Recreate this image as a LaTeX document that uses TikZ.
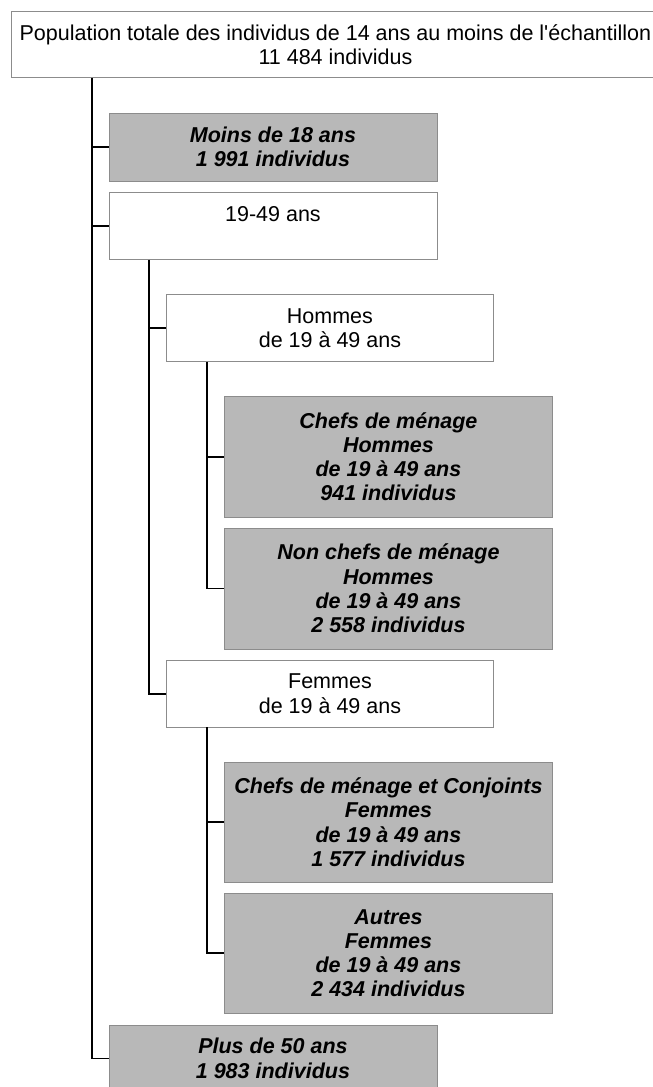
\documentclass[tikz,border=0pt]{standalone}
\usepackage{fontspec}
\setmainfont{Liberation Sans}[Ligatures=TeXOff]
\definecolor{boxgray}{RGB}{184,184,184}
\definecolor{edgegray}{RGB}{140,140,140}
\begin{document}
\begin{tikzpicture}[x=1pt,y=-1pt,
  box/.style={draw=edgegray, line width=0.9pt, anchor=north west, align=center,
    inner sep=0pt, font=\fontsize{21.5}{24.3}\selectfont},
  plain/.style={box, fill=white},
  shaded/.style={box, fill=boxgray, font=\fontsize{21.5}{24.3}\selectfont\bfseries\itshape},
  link/.style={line width=1.8pt, black}]
\useasboundingbox (0,0) rectangle (653,1087);

% boxes
\node[plain, minimum width=648, minimum height=66] (top) at (11,11)
  {Population totale des individus de 14 ans au moins de l'échantillon\\11 484 individus};
\node[shaded, minimum width=328, minimum height=68] (young) at (108.5,112.5)
  {Moins de 18 ans\\1 991 individus};
\node[plain, minimum width=328, minimum height=67] (mid) at (108.5,192)
  {19-49 ans\\~};
\node[plain, minimum width=327, minimum height=67] (men) at (166,294)
  {Hommes\\de 19 à 49 ans};
\node[shaded, minimum width=328, minimum height=120.5] (menhead) at (224,396)
  {Chefs de ménage\\Hommes\\de 19 à 49 ans\\941 individus};
\node[shaded, minimum width=328, minimum height=121] (menother) at (224,527.5)
  {Non chefs de ménage\\Hommes\\de 19 à 49 ans\\2 558 individus};
\node[plain, minimum width=327, minimum height=66.5] (women) at (166,660)
  {Femmes\\de 19 à 49 ans};
\node[shaded, minimum width=328, minimum height=120] (womenhead) at (224,761.7)
  {Chefs de ménage et Conjoints\\Femmes\\de 19 à 49 ans\\1 577 individus};
\node[shaded, minimum width=328, minimum height=120.5] (womenother) at (224,892.5)
  {Autres\\Femmes\\de 19 à 49 ans\\2 434 individus};
\node[shaded, minimum width=328, minimum height=67] (old) at (108.5,1024.5)
  {Plus de 50 ans\\1 983 individus};

% tree connectors
\coordinate (t0) at (92,0);
\coordinate (t1) at (149,0);
\coordinate (t2) at (207,0);

\draw[link] (top.south -| t0) |- (old.west);
\draw[link] (t0 |- young.west) -- (young.west);
\draw[link] (t0 |- mid.west) -- (mid.west);

\draw[link] (mid.south -| t1) |- (women.west);
\draw[link] (t1 |- men.west) -- (men.west);

\draw[link] (men.south -| t2) |- (menother.west);
\draw[link] (t2 |- menhead.west) -- (menhead.west);

\draw[link] (women.south -| t2) |- (womenother.west);
\draw[link] (t2 |- womenhead.west) -- (womenhead.west);
\end{tikzpicture}
\end{document}
